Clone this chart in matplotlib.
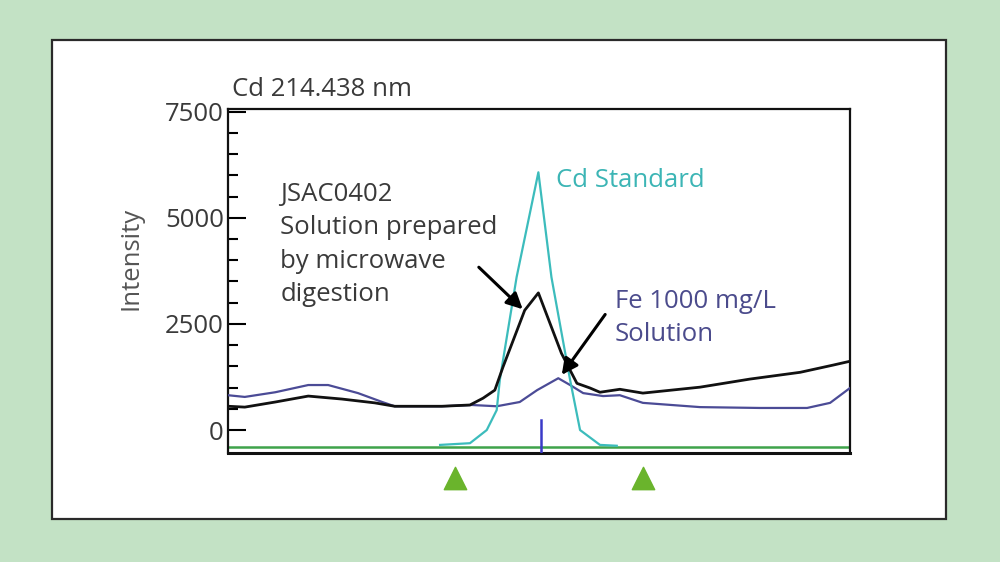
import matplotlib.pyplot as plt
from matplotlib.patches import Rectangle
from matplotlib.ticker import FixedLocator

# scan position (arbitrary units, 0-100) and intensity
sample_x = [0, 2.7, 7.6, 12.9, 18.3, 23.6, 26.8, 34.4, 38.9, 41.0, 42.9, 44.2,
            47.7, 49.9, 53.6, 55.0, 56.1, 58.2, 59.8, 63.0, 66.7, 75.9, 83.9,
            92.0, 97.3, 100]
sample_y = [560, 540, 660, 800, 730, 640, 560, 560, 590, 750, 940, 1480,
            2820, 3230, 1810, 1410, 1100, 990, 890, 960, 870, 1010, 1200,
            1360, 1530, 1620]

fe_x = [0, 2.7, 7.6, 12.9, 16.1, 20.9, 24.8, 26.8, 34.4, 39.2, 43.2, 46.9,
        49.7, 53.1, 55.0, 57.1, 60.3, 63.0, 66.7, 75.9, 85.5, 93.1, 96.8, 100]
fe_y = [820, 780, 890, 1060, 1060, 870, 660, 560, 560, 590, 560, 660,
        940, 1220, 1060, 870, 800, 820, 640, 540, 520, 520, 640, 990]

std_x = [34.1, 38.9, 41.6, 43.2, 43.7, 46.4, 49.9, 52.0, 55.0, 56.6, 59.8, 62.5]
std_y = [-350, -310, 0, 470, 1180, 3600, 6070, 3600, 1180, 0, -350, -370]

blank_level = -395
peak_pos = 50.3
bg_points = [36.5, 66.7]

yticks = [0, 2500, 5000, 7500]
minor_step = 500

TEXT = '#3a3a3a'
FS = 18.5
plt.rcParams['font.family'] = ['Open Sans', 'DejaVu Sans']

fig = plt.figure(figsize=(10, 5.62), dpi=100, facecolor='#c3e2c5')
fig.patches.append(Rectangle((0.052, 0.0765), 0.894, 0.852, transform=fig.transFigure,
                             facecolor='white', edgecolor='#2a2a2a', lw=1.6, zorder=-5))

ax = fig.add_axes([0.228, 0.194, 0.622, 0.612])
ax.set_zorder(2)
ax.set_facecolor('white')

ax.axhline(blank_level, color='#3fa34a', lw=1.8, zorder=2)
ax.plot(fe_x, fe_y, color='#4b4b96', lw=1.6, zorder=3)
ax.plot(std_x, std_y, color='#3cbcbc', lw=1.6, zorder=4)
ax.plot(sample_x, sample_y, color='#111111', lw=2.0, zorder=5)
ax.plot([peak_pos, peak_pos], [-540, 235], color='#3a3ac8', lw=1.8, zorder=6)

ax.set_xlim(0, 100)
ax.set_ylim(-540, 7560)
ax.set_xticks([])
ax.set_yticks(yticks)
ax.yaxis.set_minor_locator(FixedLocator(range(0, yticks[-1] + 1, minor_step)))
ax.tick_params(axis='y', which='major', direction='in', length=13, width=1.5,
               labelsize=FS, labelcolor=TEXT, pad=3)
ax.tick_params(axis='y', which='minor', direction='in', length=7, width=1.5)
for s in ax.spines.values():
    s.set_linewidth(1.6)
    s.set_color('#111111')
ax.spines['bottom'].set_linewidth(2.2)
ax.set_ylabel('Intensity', fontsize=FS, color='#555555')
ax.yaxis.set_label_coords(-0.136, 0.567)

ax.text(0.006, 1.058, 'Cd 214.438 nm', transform=ax.transAxes, fontsize=FS,
        color=TEXT, ha='left', va='center')
ax.text(52.7, 5880, 'Cd Standard', fontsize=FS, color='#3cb5b5', ha='left', va='center')
ax.text(8.4, 5850, 'JSAC0402\nSolution prepared\nby microwave\ndigestion',
        fontsize=FS, color=TEXT, ha='left', va='top', linespacing=1.45)
ax.text(62.2, 3330, 'Fe 1000 mg/L\nSolution', fontsize=FS, color='#4b4b8c',
        ha='left', va='top', linespacing=1.45)

arrow = dict(arrowstyle='-|>', color='black', lw=2.2, mutation_scale=24)
ax.annotate('', xy=(47.7, 2800), xytext=(40.0, 3880), arrowprops=arrow, zorder=7)
ax.annotate('', xy=(53.4, 1246), xytext=(60.9, 2775), arrowprops=arrow, zorder=7)

ax.scatter(bg_points, [-0.073] * len(bg_points), transform=ax.get_xaxis_transform(),
           marker='^', s=260, color='#6ab42c', clip_on=False, zorder=8)

fig.savefig('out.png', dpi=100, facecolor=fig.get_facecolor())
